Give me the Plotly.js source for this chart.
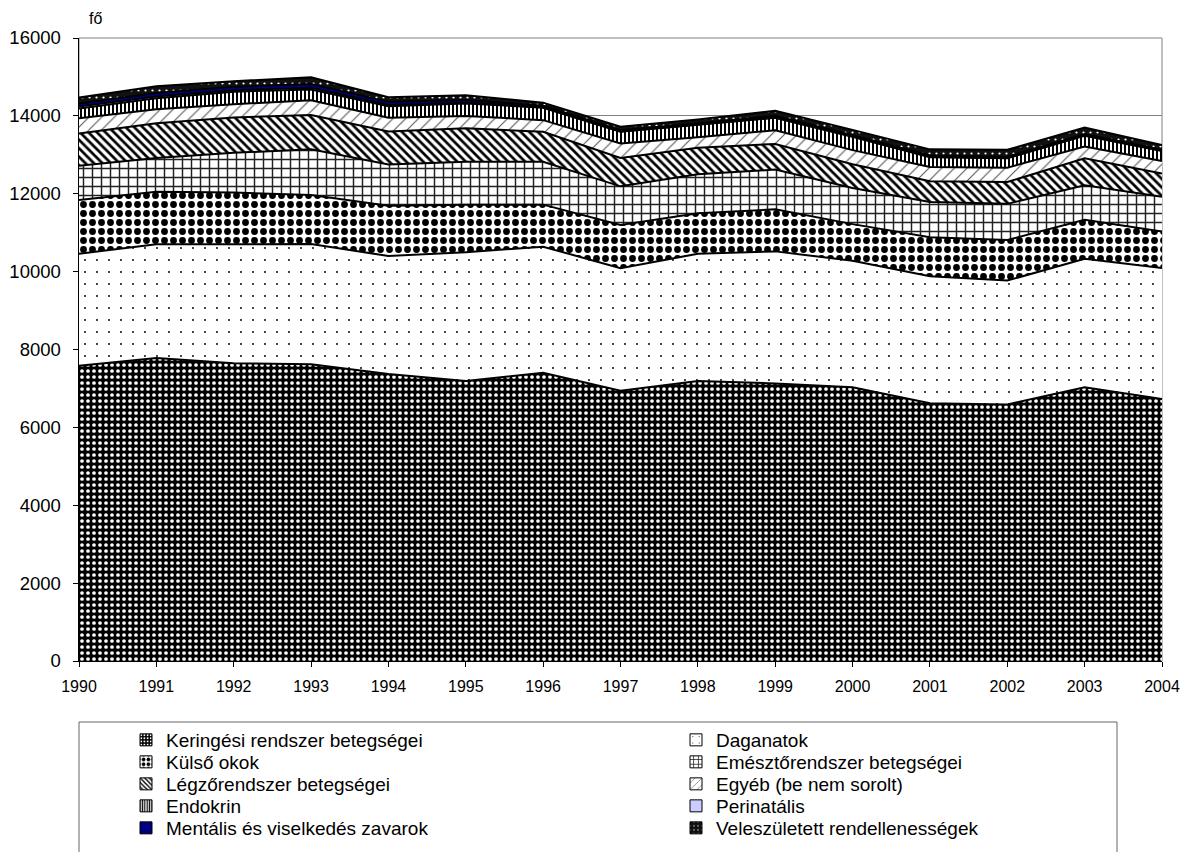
<!DOCTYPE html>
<html><head><meta charset="utf-8">
<script src="https://cdn.plot.ly/plotly-3.0.1.min.js"></script>
<style>html,body{margin:0;padding:0;background:#fff}#chart{width:1194px;height:852px}</style>
</head><body><div id="chart"></div>
<script>
const years = [1990,1991,1992,1993,1994,1995,1996,1997,1998,1999,2000,2001,2002,2003,2004];
const seriesNames = [
  "Keringési rendszer betegségei", "Daganatok", "Külső okok", "Emésztőrendszer betegségei",
  "Légzőrendszer betegségei", "Egyéb (be nem sorolt)", "Endokrin", "Perinatális",
  "Mentális és viselkedés zavarok", "Veleszületett rendellenességek"
];
const keringesi  = [7580,7780,7650,7620,7370,7190,7400,6940,7190,7130,7030,6620,6590,7030,6730];
const daganatok  = [2880,2920,3050,3090,3030,3310,3240,3150,3270,3390,3250,3260,3180,3300,3360];
const kulsoOkok  = [1380,1350,1330,1260,1290,1220,1080,1110,1040,1080,940,1000,1040,1000,940];
const emeszto    = [880,870,1020,1170,1060,1100,1100,990,1000,1020,930,910,930,890,890];
const legzo      = [830,890,910,880,850,860,770,730,680,660,610,530,560,690,600];
const egyeb      = [390,360,340,380,350,320,300,370,270,350,360,370,370,300,320];
const endokrin   = [250,280,320,280,300,320,320,300,320,320,340,250,240,280,260];
const perinatalis= [50,50,40,40,30,20,10,10,10,10,10,10,10,10,10];
const mentalis   = [80,90,90,100,80,70,40,30,30,40,30,30,30,30,20];
const veleszul   = [150,170,140,170,120,120,80,90,100,130,140,160,180,170,120];
const yTicks = [0,2000,4000,6000,8000,10000,12000,14000,16000];

const seriesValues = [keringesi,daganatok,kulsoOkok,emeszto,legzo,egyeb,endokrin,perinatalis,mentalis,veleszul];

const styles = [
  {bg:'#000000', pat:{shape:'.', fgcolor:'#ffffff', bgcolor:'#000000', size:6, solidity:0.3, fillmode:'replace'}},
  {bg:'#ffffff', pat:{shape:'.', fgcolor:'#000000', bgcolor:'#ffffff', size:12, solidity:0.02, fillmode:'replace'}},
  {bg:'#ffffff', pat:{shape:'.', fgcolor:'#000000', bgcolor:'#ffffff', size:9, solidity:0.45, fillmode:'replace'}},
  {bg:'#ffffff', pat:{shape:'+', fgcolor:'#222222', bgcolor:'#ffffff', size:9, solidity:0.3, fillmode:'replace'}},
  {bg:'#ffffff', pat:{shape:'\\', fgcolor:'#000000', bgcolor:'#ffffff', size:6, solidity:0.45, fillmode:'replace'}},
  {bg:'#ffffff', pat:{shape:'/', fgcolor:'#555555', bgcolor:'#ffffff', size:9, solidity:0.12, fillmode:'replace'}},
  {bg:'#ffffff', pat:{shape:'|', fgcolor:'#000000', bgcolor:'#ffffff', size:4, solidity:0.5, fillmode:'replace'}},
  {bg:'#ccccff', pat:null},
  {bg:'#000080', pat:null},
  {bg:'#111111', pat:{shape:'.', fgcolor:'#ffffff', bgcolor:'#111111', size:7, solidity:0.08, fillmode:'replace'}}
];

const FONT = 'Arial, "Liberation Sans", sans-serif';
const traces = [];
seriesValues.forEach((vals, i) => {
  const t = {
    type:'scatter', mode:'lines', x: years, y: vals, name: seriesNames[i],
    stackgroup:'one', line:{color:'#000000', width:2}, fillcolor: styles[i].bg,
    showlegend:false, hoverinfo:'x+y+name'
  };
  if (styles[i].pat) t.fillpattern = styles[i].pat;
  traces.push(t);
});

// legend swatches (one legend per entry, laid out in two columns like the original)
const legendIds = ['legend','legend2','legend3','legend4','legend5','legend6','legend7','legend8','legend9','legend10'];
seriesNames.forEach((nm, i) => {
  const m = {color: styles[i].bg, line:{color:'#000000', width:1}};
  if (styles[i].pat) m.pattern = Object.assign({}, styles[i].pat, {size: Math.max(3, Math.round(styles[i].pat.size*0.7))});
  traces.push({type:'bar', x:[years[0]], y:[null], name:nm, marker:m, legend: legendIds[i], showlegend:true, hoverinfo:'skip'});
});

const plotL = 79, plotR = 1162, plotT = 38, plotB = 661;
const pw = plotR - plotL, ph = plotB - plotT;
const px2x = p => (p - plotL) / pw;
const px2y = p => (plotB - p) / ph;
const rowsY = [740, 762, 784, 806, 828];
const colSym = [146, 696];

const layout = {
  width:1194, height:852,
  margin:{l:plotL, r:1194-plotR, t:plotT, b:852-plotB, autoexpand:false},
  paper_bgcolor:'#ffffff', plot_bgcolor:'#ffffff',
  font:{family:FONT, color:'#000000', size:16},
  showlegend:true,
  xaxis:{range:[1990,2004], tickmode:'array', tickvals:years, ticktext:years.map(String),
         ticks:'outside', ticklen:5, tickcolor:'#000000', showline:true, linecolor:'#000000', linewidth:1,
         showgrid:false, zeroline:false, tickfont:{family:FONT, size:16, color:'#000000'}, ticklabelstandoff:6, fixedrange:true},
  yaxis:{range:[0,16000], tickmode:'array', tickvals:yTicks, ticktext:yTicks.map(String),
         ticks:'outside', ticklen:5, tickcolor:'#000000', showline:true, linecolor:'#000000', linewidth:1.5,
         showgrid:true, gridcolor:'#808080', gridwidth:1, zeroline:false,
         tickfont:{family:FONT, size:18.5, color:'#000000'}, ticklabelstandoff:8, fixedrange:true},
  shapes:[
    {type:'rect', xref:'paper', yref:'paper', x0:0, x1:1, y0:0, y1:1, line:{color:'#808080', width:1}, layer:'below'},
    {type:'rect', xref:'paper', yref:'paper', x0:0, x1:px2x(1117), y0:px2y(722), y1:px2y(900), line:{color:'#666666', width:1}, fillcolor:'rgba(0,0,0,0)', layer:'above'}
  ],
  annotations:[
    {text:'fő', xref:'paper', yref:'paper', x:px2x(95), y:px2y(18), xanchor:'center', yanchor:'middle', showarrow:false,
     font:{family:FONT, size:16, color:'#000000'}}
  ]
};
legendIds.forEach((id, i) => {
  const row = Math.floor(i/2), col = i % 2;
  layout[id] = {
    x: px2x(colSym[col] - 20), xref:'paper', xanchor:'left',
    y: px2y(rowsY[row]), yref:'paper', yanchor:'middle',
    orientation:'v', bgcolor:'rgba(0,0,0,0)', borderwidth:0,
    font:{family:FONT, size:19, color:'#000000'}, itemclick:false, itemdoubleclick:false
  };
});

Plotly.newPlot('chart', traces, layout, {displayModeBar:false, staticPlot:true});
</script>
</body></html>
